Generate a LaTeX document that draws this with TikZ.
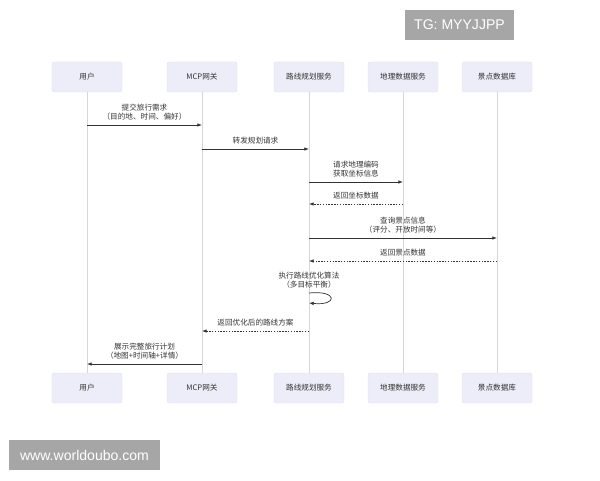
\documentclass[tikz,border=0pt]{standalone}
\usepackage{fontspec}
\setmainfont{Noto Sans CJK SC}
\newfontfamily\wmfont{Liberation Sans}
\usetikzlibrary{arrows.meta}
\definecolor{actorfill}{RGB}{237,237,250}
\definecolor{actorline}{RGB}{224,224,238}
\definecolor{lifeline}{RGB}{214,214,214}
\definecolor{msgline}{RGB}{51,51,51}
\definecolor{msgtext}{RGB}{51,51,51}
\definecolor{wmgray}{RGB}{166,166,166}
\begin{document}
\begin{tikzpicture}[x=0.03cm,y=-0.03cm,
    actor/.style={rectangle,rounded corners=2pt,draw=actorline,fill=actorfill,
        minimum width=2.1cm,minimum height=0.9cm,text=msgtext,
        font=\fontsize{6.5}{8}\selectfont},
    life/.style={draw=lifeline,line width=0.6pt},
    msg/.style={draw=msgline,line width=0.6pt,-{Latex[length=4pt,width=3pt]}},
    reply/.style={msg,dash pattern=on 1.2pt off 1.2pt},
    lbl/.style={text=msgtext,align=center,inner sep=1pt,above=3pt,
        font=\fontsize{6.5}{7.8}\selectfont},
    wmbox/.style={fill=wmgray,text=white,inner sep=0pt,minimum height=0.9cm,
        font=\wmfont\fontsize{12}{14}\selectfont}]
\useasboundingbox (0,0) rectangle (600,480);
%watermarks
        \node[wmbox,minimum width=3.27cm] (tg) at (459.5,25) {TG: MYYJJPP};
        \node[wmbox,minimum width=4.53cm] (site) at (84.5,455) {www.worldoubo.com};
%actors
        \node[actor] (user1) at (87,77) {用户};
        \node[actor] (mcp1) at (202,77) {MCP网关};
        \node[actor] (route1) at (309,77) {路线规划服务};
        \node[actor] (geo1) at (403,77) {地理数据服务};
        \node[actor] (poi1) at (497,77) {景点数据库};
        \node[actor] (user2) at (87,388) {用户};
        \node[actor] (mcp2) at (202,388) {MCP网关};
        \node[actor] (route2) at (309,388) {路线规划服务};
        \node[actor] (geo2) at (403,388) {地理数据服务};
        \node[actor] (poi2) at (497,388) {景点数据库};
%lifelines
        \draw [life] (user1) -- (user2);
        \draw [life] (mcp1) -- (mcp2);
        \draw [life] (route1) -- (route2);
        \draw [life] (geo1) -- (geo2);
        \draw [life] (poi1) -- (poi2);
%messages
        \draw [msg] (user1 |- 0,125) -- node[lbl] {提交旅行需求\\（目的地、时间、偏好）} (mcp1 |- 0,125);
        \draw [msg] (mcp1 |- 0,149) -- node[lbl] {转发规划请求} (route1 |- 0,149);
        \draw [msg] (route1 |- 0,182) -- node[lbl] {请求地理编码\\获取坐标信息} (geo1 |- 0,182);
        \draw [reply] (geo1 |- 0,204) -- node[lbl] {返回坐标数据} (route1 |- 0,204);
        \draw [msg] (route1 |- 0,238) -- node[lbl] {查询景点信息\\（评分、开放时间等）} (poi1 |- 0,238);
        \draw [reply] (poi1 |- 0,261) -- node[lbl] {返回景点数据} (route1 |- 0,261);
        \node[text=msgtext,align=center,inner sep=1pt,font=\fontsize{6.5}{7.8}\selectfont] (loop) at (309,280) {执行路线优化算法\\（多目标平衡）};
        \draw [msg] (route1 |- 0,293) .. controls +(29,-3) and +(29,3) .. (route1 |- 0,303);
        \draw [reply] (route1 |- 0,331) -- node[lbl] {返回优化后的路线方案} (mcp1 |- 0,331);
        \draw [msg] (mcp1 |- 0,364) -- node[lbl] {展示完整旅行计划\\（地图+时间轴+详情）} (user1 |- 0,364);
    \end{tikzpicture}
\end{document}
